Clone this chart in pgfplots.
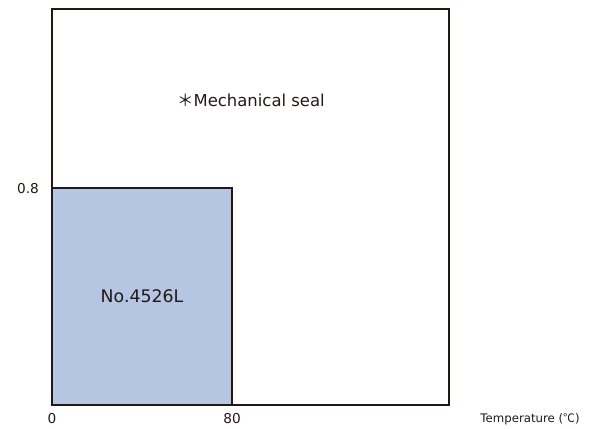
\documentclass[border=0pt]{standalone}
\usepackage{pgfplots}
\pgfplotsset{compat=1.18}
\usepackage{fontspec}
\setmainfont{DejaVu Sans}
\newfontfamily\cjk{Noto Sans CJK JP}
\definecolor{ink}{HTML}{231815}
\definecolor{barfill}{HTML}{B4C6E2}
\begin{document}
\begin{tikzpicture}
\begin{axis}[
  at={(0,0)}, anchor=south west,
  scale only axis, width=397bp, height=396bp,
  xmin=0, xmax=176.4, ymin=0, ymax=1.461,
  xtick={0,80}, ytick={0.8},
  major tick length=0pt,
  axis line style={draw=ink, line width=1.5bp},
  clip=false,
  /pgf/number format/assume math mode=true,
  ticklabel style={text=ink, font=\fontsize{13.7}{16}\selectfont, inner sep=0pt},
  xticklabel style={anchor=north, yshift=-8bp},
  yticklabel style={anchor=east, xshift=-13bp},
]
\addplot[draw=ink, line width=1.5bp, fill=barfill] coordinates {(0,0) (0,0.8) (80,0.8) (80,0)} --cycle;
\node[text=ink, font=\fontsize{17.4}{20}\selectfont] at (axis cs:40,0.4) {No.4526L};
\node[text=ink, font=\fontsize{16.5}{20}\selectfont] at (axis cs:88.4,1.125) {{\cjk ＊}Mechanical seal};
\node[text=ink, font=\fontsize{11.8}{14}\selectfont, anchor=base, inner sep=0pt] at (axis cs:212.4,-0.0664) {Temperature ({\cjk ℃})};
\end{axis}
\pgfresetboundingbox
\path[use as bounding box] (-52bp,-24bp) rectangle (546bp,405bp);
\end{tikzpicture}
\end{document}
